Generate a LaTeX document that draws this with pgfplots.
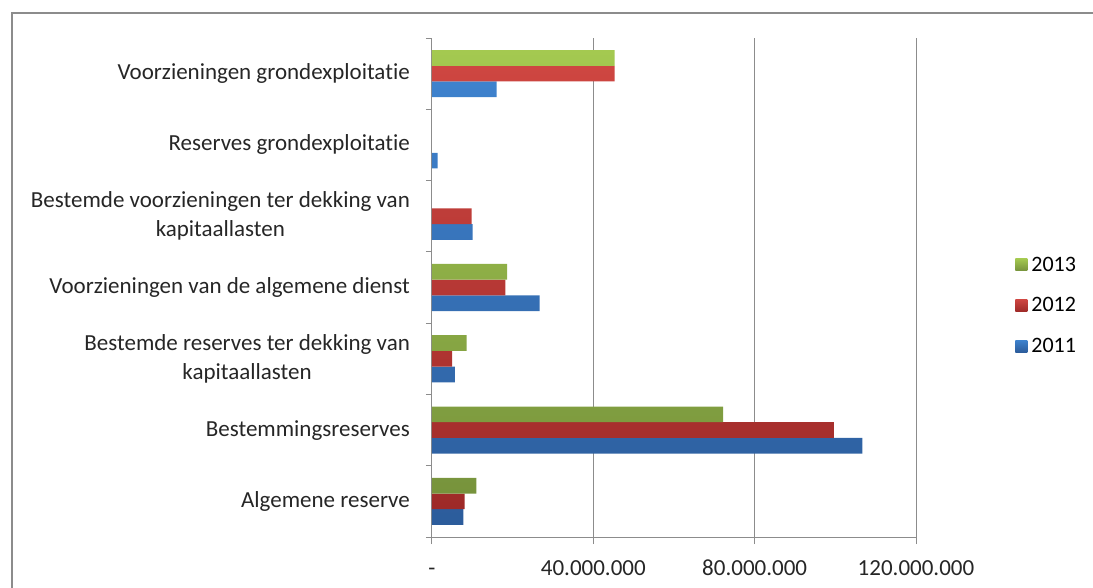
\documentclass[border=0pt]{standalone}
\usepackage{fontspec}
\setmainfont{Carlito}[Ligatures=NoCommon]
\usepackage{pgfplots}
\pgfplotsset{compat=1.18}

\definecolor{greenT}{HTML}{A4C950}
\definecolor{greenB}{HTML}{77933C}
\definecolor{redT}{HTML}{CE4641}
\definecolor{redB}{HTML}{9E2A28}
\definecolor{blueT}{HTML}{3E82CD}
\definecolor{blueB}{HTML}{2C5C9B}
\definecolor{axisgray}{HTML}{8C8C8C}

\begin{document}
\begin{tikzpicture}
\path[use as bounding box] (0pt,0pt) rectangle (1093pt,587pt);
\draw[color=axisgray, line width=1.2pt] (12pt,-10pt) -- (12pt,574pt) -- (1110pt,574pt);
\begin{axis}[
  at={(432pt,50pt)}, anchor=south west,
  scale only axis,
  width=484pt, height=499pt,
  xbar, bar width=15.7pt,
  xmin=0, xmax=120000000,
  ymin=-0.5, ymax=6.5,
  axis lines*=left,
  axis line style={color=axisgray, line width=1pt},
  xmajorgrids, grid style={color=axisgray, line width=1pt},
  xtick={0,40000000,80000000,120000000},
  xticklabels={-\hspace{8pt},40.000.000,80.000.000,120.000.000},
  scaled x ticks=false,
  ytick={0,1,2,3,4,5,6},
  yticklabels={
    Algemene reserve,
    Bestemmingsreserves,
    {Bestemde reserves ter dekking van\\kapitaallasten},
    Voorzieningen van de algemene dienst,
    {Bestemde voorzieningen ter dekking van\\kapitaallasten},
    Reserves grondexploitatie,
    Voorzieningen grondexploitatie},
  minor ytick={-0.5,0.5,1.5,2.5,3.5,4.5,5.5,6.5},
  tick align=outside,
  major tick length=7pt, minor tick length=6pt,
  major y tick style={draw=none},
  minor y tick style={color=axisgray, line width=1pt},
  major x tick style={color=axisgray, line width=1pt},
  tick label style={font=\fontsize{23}{29}\selectfont, color=black!85},
  yticklabel style={align=center, inner sep=0pt, xshift=-15pt},
  xticklabel style={inner sep=0pt, text height=15pt, text depth=0pt, yshift=-16pt},
  legend style={at={(1.205,0.566)}, anchor=north west, draw=none, fill=none,
    font=\fontsize{22}{26}\selectfont, row sep=21pt, inner sep=0pt,
    nodes={inner xsep=4pt}},
  legend cell align=left,
  reverse legend,
  legend image code/.code={\path[#1, draw=none] (0pt,-6pt) rectangle (12pt,6pt);},
]
\addplot[draw=none, top color=blueT, bottom color=blueB, bar shift=-15.7pt]
coordinates {
  (7800000,0)
  (106700000,1)
  (5700000,2)
  (26700000,3)
  (10100000,4)
  (1400000,5)
  (16000000,6)
};
\addplot[draw=none, top color=redT, bottom color=redB, bar shift=0pt]
coordinates {
  (8100000,0)
  (99800000,1)
  (5000000,2)
  (18200000,3)
  (9800000,4)
  (45300000,6)
};
\addplot[draw=none, top color=greenT, bottom color=greenB, bar shift=15.7pt]
coordinates {
  (11000000,0)
  (72200000,1)
  (8600000,2)
  (18600000,3)
  (45300000,6)
};
\legend{2011,2012,2013}
\end{axis}
\end{tikzpicture}
\end{document}
